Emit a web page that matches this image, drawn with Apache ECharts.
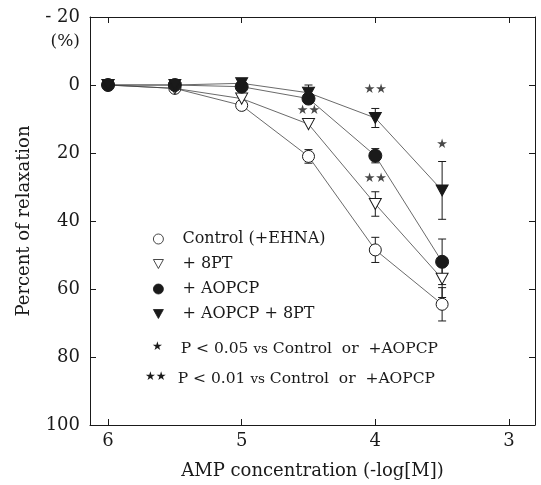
<!DOCTYPE html>
<html>
<head>
<meta charset="utf-8">
<script src="https://cdn.jsdelivr.net/npm/echarts@6/dist/echarts.min.js"></script>
<style>
html, body { margin: 0; padding: 0; background: #fff; }
#main { width: 541px; height: 485px; }
</style>
</head>
<body>
<div id="main"></div>
<script>
// AMP concentration (-log[M])
var conc = [6, 5.5, 5, 4.5, 4, 3.5];
var xTicks = [3, 4, 5, 6];

// percent of relaxation, mean and error
var control = [0, 1, 6, 21, 48.5, 64.5];
var controlErr = [0, 0, 0, 2, 3.7, 4.9];
var pt8 = [0, 1, 4, 11.5, 35, 57];
var pt8Err = [0, 0, 0, 0, 3.6, 5.5];
var aopcp = [0, 0, 0.5, 4, 20.8, 52];
var aopcpErr = [0, 0, 0, 0, 2.1, 6.7];
var aopcp8pt = [0, 0, -0.5, 2.3, 9.7, 31];
var aopcp8ptErr = [0, 0, 0, 2.3, 2.8, 8.5];

// significance marks
var starX = [4, 4.5, 4, 3.5];
var starY = [1.5, 7.6, 27.4, 17.6];
var starText = ['★★', '★★', '★★', '★'];

var FONT = 'DejaVu Serif';
var INK = '#1a1a1a';
var triDown = 'path://M0,0L10,0L5,9Z';

function pts(vals) {
    return conc.map(function (x, i) { return [x, vals[i]]; });
}
function errPts(vals, errs) {
    var out = [];
    conc.forEach(function (x, i) {
        if (errs[i] > 0) out.push([x, vals[i] - errs[i], vals[i] + errs[i]]);
    });
    return out;
}
function errSeries(vals, errs) {
    return {
        type: 'custom',
        z: 1,
        silent: true,
        renderItem: function (params, api) {
            var a = api.coord([api.value(0), api.value(1)]);
            var b = api.coord([api.value(0), api.value(2)]);
            var w = 4;
            var st = { stroke: INK, lineWidth: 1 };
            return {
                type: 'group',
                children: [
                    { type: 'line', shape: { x1: a[0], y1: a[1], x2: b[0], y2: b[1] }, style: st },
                    { type: 'line', shape: { x1: a[0] - w, y1: a[1], x2: a[0] + w, y2: a[1] }, style: st },
                    { type: 'line', shape: { x1: b[0] - w, y1: b[1], x2: b[0] + w, y2: b[1] }, style: st }
                ]
            };
        },
        data: errPts(vals, errs)
    };
}
function lineSeries(name, vals, symbol, size, fill) {
    return {
        name: name,
        type: 'line',
        z: 3,
        data: pts(vals),
        symbol: symbol,
        symbolSize: size,
        showAllSymbol: true,
        lineStyle: { color: '#444', width: 0.8 },
        itemStyle: { color: fill, borderColor: INK, borderWidth: 1, opacity: 1 }
    };
}

var chart = echarts.init(document.getElementById('main'));

var option = {
    animation: false,
    backgroundColor: '#fff',
    grid: { left: 90, right: 6, top: 17, bottom: 60 },
    legend: {
        orient: 'vertical',
        left: 153,
        top: 231,
        padding: 0,
        itemWidth: 10,
        itemHeight: 10,
        itemGap: 9,
        selectedMode: false,
        lineStyle: { width: 0, opacity: 0 },
        itemStyle: { borderWidth: 0.8 },
        textStyle: { fontFamily: FONT, fontSize: 16, color: INK, padding: [0, 0, 0, 14] },
        data: [
            { name: 'Control (+EHNA)', icon: 'circle' },
            { name: '+ 8PT', icon: triDown },
            { name: '+ AOPCP', icon: 'circle' },
            { name: '+ AOPCP + 8PT', icon: triDown }
        ]
    },
    xAxis: [{
        type: 'value',
        min: 2.805,
        max: 6.135,
        inverse: true,
        name: 'AMP concentration (-log[M])',
        nameLocation: 'middle',
        nameGap: 37,
        nameTextStyle: { fontFamily: FONT, fontSize: 18, color: INK },
        axisLine: { onZero: false, lineStyle: { color: INK, width: 1 } },
        axisTick: { inside: true, length: 6, customValues: xTicks, lineStyle: { color: INK } },
        axisLabel: { customValues: xTicks, fontFamily: FONT, fontSize: 18, color: INK, margin: 7 },
        splitLine: { show: false }
    }, {
        type: 'value',
        position: 'top',
        min: 2.805,
        max: 6.135,
        inverse: true,
        axisLine: { onZero: false, lineStyle: { color: INK, width: 1 } },
        axisTick: { inside: true, length: 6, customValues: xTicks, lineStyle: { color: INK } },
        axisLabel: { show: false },
        splitLine: { show: false }
    }],
    yAxis: [{
        type: 'value',
        min: -20,
        max: 100,
        interval: 20,
        inverse: true,
        name: 'Percent of relaxation',
        nameLocation: 'middle',
        nameGap: 57,
        nameTextStyle: { fontFamily: FONT, fontSize: 18, color: INK },
        axisLine: { show: true, onZero: false, lineStyle: { color: INK, width: 1 } },
        axisTick: { show: true, inside: true, length: 6, lineStyle: { color: INK } },
        axisLabel: {
            fontFamily: FONT, fontSize: 18, color: INK, margin: 10,
            formatter: function (v) { return v === -20 ? '- 20' : String(v); }
        },
        splitLine: { show: false }
    }, {
        type: 'value',
        position: 'right',
        min: -20,
        max: 100,
        interval: 20,
        inverse: true,
        axisLine: { show: true, onZero: false, lineStyle: { color: INK, width: 1 } },
        axisTick: { show: true, inside: true, length: 6, lineStyle: { color: INK } },
        axisLabel: { show: false },
        splitLine: { show: false }
    }],
    graphic: [
        { type: 'text', right: 461, top: 33, style: { text: '(%)', font: '17px "DejaVu Serif"', fill: INK } },
        {
            type: 'text', left: 152, top: 341,
            style: {
                text: '{s|★}  {t|P < 0.05 }{v|vs}{t| Control  or  +AOPCP}',
                rich: {
                    s: { fontSize: 12, fontFamily: 'DejaVu Sans', fill: INK, width: 22, verticalAlign: 'top' },
                    t: { fontSize: 15.5, fontFamily: FONT, fill: INK },
                    v: { fontSize: 13.5, fontFamily: FONT, fill: INK }
                }
            }
        },
        {
            type: 'text', left: 145, top: 371,
            style: {
                text: '{s|★★}  {t|P < 0.01 }{v|vs}{t| Control  or  +AOPCP}',
                rich: {
                    s: { fontSize: 12, fontFamily: 'DejaVu Sans', fill: INK, width: 26, verticalAlign: 'top' },
                    t: { fontSize: 15.5, fontFamily: FONT, fill: INK },
                    v: { fontSize: 13.5, fontFamily: FONT, fill: INK }
                }
            }
        }
    ],
    series: [
        errSeries(control, controlErr),
        errSeries(pt8, pt8Err),
        errSeries(aopcp, aopcpErr),
        errSeries(aopcp8pt, aopcp8ptErr),
        lineSeries('Control (+EHNA)', control, 'circle', 12, '#fff'),
        lineSeries('+ 8PT', pt8, triDown, [12, 11], '#fff'),
        lineSeries('+ AOPCP', aopcp, 'circle', 13, INK),
        lineSeries('+ AOPCP + 8PT', aopcp8pt, triDown, [12, 11], INK),
        {
            type: 'scatter',
            symbolSize: 0,
            silent: true,
            z: 4,
            data: starX.map(function (x, i) { return [x, starY[i], starText[i]]; }),
            label: {
                show: true,
                position: 'inside',
                fontSize: 13,
                fontFamily: 'DejaVu Sans',
                color: INK,
                formatter: function (p) { return p.value[2]; }
            }
        }
    ]
};

chart.setOption(option);
</script>
</body>
</html>
